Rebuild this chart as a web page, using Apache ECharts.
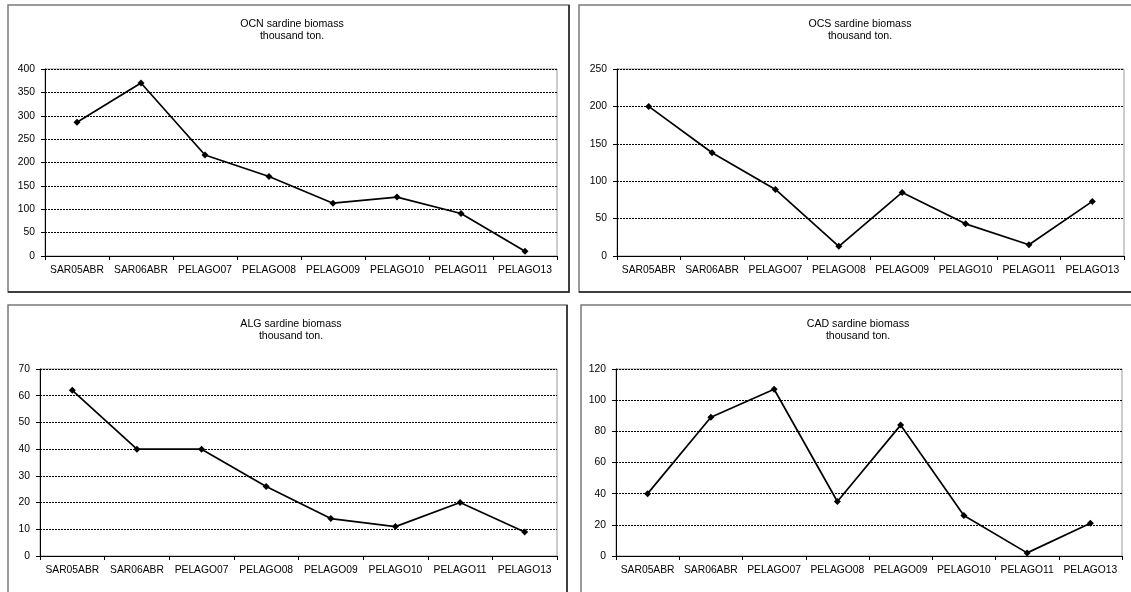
<!DOCTYPE html>
<html>
<head>
<meta charset="utf-8">
<title>Sardine biomass by survey</title>
<script src="https://cdn.jsdelivr.net/npm/echarts@6/dist/echarts.min.js"></script>
<style>
  html, body { margin: 0; padding: 0; background: #fff; }
  #chart { width: 1131px; height: 592px; }
</style>
</head>
<body>
<div id="chart"></div>
<script>
// Survey campaigns (shared category axis)
const categories = ['SAR05ABR', 'SAR06ABR', 'PELAGO07', 'PELAGO08', 'PELAGO09', 'PELAGO10', 'PELAGO11', 'PELAGO13'];

// Sardine biomass per area, thousand tonnes
const ocnBiomass = [286, 370, 216, 170, 113, 126, 91, 10];
const ocsBiomass = [200, 138, 89, 13, 85, 43, 15, 73];
const algBiomass = [62, 40, 40, 26, 14, 11, 20, 9];
const cadBiomass = [40, 89, 107, 35, 84, 26, 2, 21];

// Panel titles
const areaNames = ['OCN', 'OCS', 'ALG', 'CAD'];
const titleSuffix = ' sardine biomass\nthousand ton.';

// Value-axis ranges (max, step)
const axisMax = [400, 250, 70, 120];
const axisStep = [50, 50, 10, 20];

const seriesData = [ocnBiomass, ocsBiomass, algBiomass, cadBiomass];

// Layout of the four panels: plot areas, title centres, frames
const grids = [
  { left: 45, top: 69, right: 574, bottom: 336 },
  { left: 617, top: 69, right: 7, bottom: 336 },
  { left: 40, top: 369, right: 574, bottom: 36 },
  { left: 616, top: 369, right: 9, bottom: 36 }
];
const titlePos = [
  { x: 292, y: 18 },
  { x: 860, y: 18 },
  { x: 291, y: 318 },
  { x: 858, y: 318 }
];
const frames = [
  { x: 8, y: 5, w: 561, h: 287 },
  { x: 579, y: 5, w: 560, h: 287 },
  { x: 8, y: 305, w: 559, h: 300 },
  { x: 581, y: 305, w: 560, h: 300 }
];

const FONT = '"Liberation Sans", Arial, sans-serif';

const chart = echarts.init(document.getElementById('chart'), null, { renderer: 'canvas' });

const option = {
  backgroundColor: '#ffffff',
  animation: false,
  title: areaNames.map((n, i) => ({
    text: n + titleSuffix,
    left: titlePos[i].x,
    top: titlePos[i].y,
    padding: 0,
    textAlign: 'center',
    textStyle: {
      fontFamily: FONT,
      fontSize: 10.6,
      fontWeight: 'normal',
      color: '#000',
      lineHeight: 12
    }
  })),
  grid: grids.map(g => ({
    left: g.left, top: g.top, right: g.right, bottom: g.bottom,
    containLabel: false,
    show: true,
    borderColor: '#9a9a9a',
    borderWidth: 1,
    backgroundColor: 'transparent'
  })),
  xAxis: grids.map((g, i) => ({
    type: 'category',
    gridIndex: i,
    data: categories,
    boundaryGap: true,
    axisLine: { lineStyle: { color: '#000', width: 1 } },
    axisTick: { show: true, inside: false, length: 4, alignWithLabel: false, lineStyle: { color: '#000' } },
    axisLabel: { interval: 0, margin: 9, color: '#000', fontFamily: FONT, fontSize: 10.3 },
    splitLine: { show: false }
  })),
  yAxis: grids.map((g, i) => ({
    type: 'value',
    gridIndex: i,
    min: 0,
    max: axisMax[i],
    interval: axisStep[i],
    axisLine: { show: true, lineStyle: { color: '#000', width: 1 } },
    axisTick: { show: true, inside: false, length: 4, lineStyle: { color: '#000' } },
    axisLabel: { margin: 10, color: '#000', fontFamily: FONT, fontSize: 10.3 },
    splitLine: { show: true, lineStyle: { color: '#000', width: 1, type: [2, 1] } }
  })),
  series: seriesData.map((d, i) => ({
    type: 'line',
    name: areaNames[i],
    xAxisIndex: i,
    yAxisIndex: i,
    data: d,
    symbol: 'diamond',
    symbolSize: 7,
    showAllSymbol: true,
    lineStyle: { color: '#000', width: 1.7 },
    itemStyle: { color: '#000', borderWidth: 0 },
    z: 5
  })),
  graphic: frames.map(f => ({
    type: 'group',
    children: [
      { type: 'rect', shape: { x: f.x, y: f.y, width: f.w, height: f.h },
        style: { fill: 'none', stroke: '#7a7a7a', lineWidth: 1.5 } },
      { type: 'polyline', shape: { points: [[f.x + f.w, f.y], [f.x + f.w, f.y + f.h], [f.x, f.y + f.h]] },
        style: { fill: 'none', stroke: '#222', lineWidth: 1.5 } }
    ]
  }))
};

chart.setOption(option);
</script>
</body>
</html>
